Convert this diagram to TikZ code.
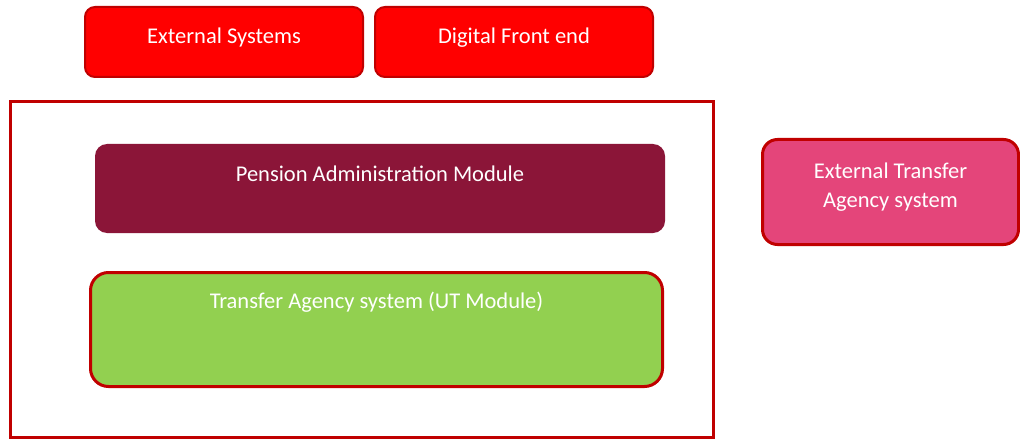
\documentclass[tikz,border=0pt]{standalone}
\usepackage{fontspec}
\setmainfont{Carlito}
\usetikzlibrary{positioning}
\definecolor{topred}{HTML}{FF0000}
\definecolor{edgered}{HTML}{C00000}
\definecolor{pammaroon}{HTML}{8B1538}
\definecolor{tagreen}{HTML}{92D050}
\definecolor{extpink}{HTML}{E4457A}

\begin{document}
\begin{tikzpicture}[x=1pt, y=-1pt, font=\fontsize{22.5}{29}\selectfont,
	blk/.style={draw=edgered, line width=2pt, text=white, anchor=north west, inner sep=0pt, align=center}]
\useasboundingbox (0,0) rectangle (1020,441);
\node[blk, fill=topred, rounded corners=10pt, minimum width=278pt, text height=37pt, text depth=33pt] (ext) at (84,6) {External Systems};
\node[blk, fill=topred, rounded corners=10pt, minimum width=278pt, text height=37pt, text depth=33pt, right=10pt of ext] (dfe) {Digital Front end};
\node[blk, line width=3pt, minimum width=703pt, minimum height=336pt] (core) at (9,100) {};
\node[blk, draw=none, fill=pammaroon, rounded corners=12pt, minimum width=570pt, text height=37pt, text depth=52pt] (pam) at (94,143) {Pension Administration Module};
\node[blk, line width=3pt, fill=tagreen, rounded corners=18pt, minimum width=572pt, text height=36pt, text depth=78pt] (ta) at (89,271) {Transfer Agency system (UT Module)};
\node[blk, line width=3pt, fill=extpink, rounded corners=15pt, minimum width=256pt, text height=68pt, text depth=37pt] (xta) at (761,138) {External Transfer\\Agency system};
\end{tikzpicture}
\end{document}
